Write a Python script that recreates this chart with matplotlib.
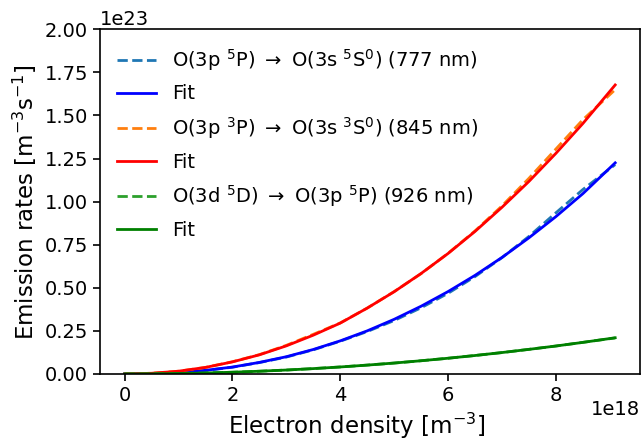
import numpy as np
import matplotlib
matplotlib.use("Agg")
import matplotlib.pyplot as plt
from matplotlib.ticker import MultipleLocator

# Electron density (units of 1e18 m^-3)
density = [0, 0.5, 1, 1.5, 2, 2.5, 3, 3.5, 4, 4.5, 5, 5.5, 6, 6.5, 7, 7.5, 8, 8.5, 9.1]

# Emission rates (units of 1e23 m^-3 s^-1)
rate_777 = [0, 0.002, 0.008, 0.020, 0.039, 0.066, 0.098, 0.140, 0.190, 0.246, 0.310, 0.384, 0.468, 0.565, 0.675, 0.798, 0.935, 1.070, 1.215]
fit_777 = [0, 0.002, 0.0085, 0.021, 0.040, 0.067, 0.100, 0.142, 0.192, 0.250, 0.317, 0.393, 0.478, 0.572, 0.676, 0.790, 0.913, 1.046, 1.225]

rate_845 = [0, 0.004, 0.016, 0.038, 0.071, 0.112, 0.166, 0.230, 0.296, 0.382, 0.478, 0.582, 0.700, 0.830, 0.975, 1.135, 1.305, 1.475, 1.650]
fit_845 = [0, 0.004, 0.016, 0.038, 0.070, 0.111, 0.163, 0.225, 0.295, 0.382, 0.477, 0.583, 0.699, 0.827, 0.967, 1.117, 1.280, 1.453, 1.677]

rate_926 = [0, 0.0006, 0.0025, 0.0057, 0.0100, 0.0158, 0.0228, 0.0312, 0.0405, 0.0515, 0.0632, 0.0768, 0.0912, 0.1073, 0.1240, 0.1430, 0.1620, 0.1835, 0.2090]
fit_926 = [0, 0.0006, 0.0025, 0.0057, 0.0101, 0.0159, 0.0228, 0.0311, 0.0406, 0.0514, 0.0634, 0.0767, 0.0913, 0.1071, 0.1243, 0.1427, 0.1623, 0.1832, 0.2100]

labels = [
    r"O(3p $^5$P) $\rightarrow$ O(3s $^5$S$^0$) (777 nm)",
    "Fit",
    r"O(3p $^3$P) $\rightarrow$ O(3s $^3$S$^0$) (845 nm)",
    "Fit",
    r"O(3d $^5$D) $\rightarrow$ O(3p $^5$P) (926 nm)",
    "Fit",
]

plt.rcParams['font.family'] = ['DejaVu Sans']
plt.rcParams['font.size'] = 14
plt.rcParams['axes.linewidth'] = 1.2
plt.rcParams['xtick.major.width'] = 1.2
plt.rcParams['ytick.major.width'] = 1.2
plt.rcParams['xtick.major.size'] = 5
plt.rcParams['ytick.major.size'] = 5

fig = plt.figure(figsize=(6.41, 4.41), dpi=100)
ax = fig.add_axes([0.156, 0.152, 0.842, 0.7816])

x = np.array(density) * 1e18
lw = 2.0
series = [
    (rate_777, fit_777, "tab:blue", "blue"),
    (rate_845, fit_845, "tab:orange", "red"),
    (rate_926, fit_926, "tab:green", "green"),
]
i = 0
for data, fit, cdata, cfit in series:
    ax.plot(x, np.array(data) * 1e23, "--", color=cdata, lw=lw, label=labels[i])
    ax.plot(x, np.array(fit) * 1e23, "-", color=cfit, lw=lw, label=labels[i + 1])
    i += 2

ax.set_ylim(0, 2.0e23)
ax.yaxis.set_major_locator(MultipleLocator(0.25e23))
ax.set_xlabel(r"Electron density [m$^{-3}$]", fontsize=16.5, x=0.476)
ax.set_ylabel(r"Emission rates [m$^{-3}$s$^{-1}$]", fontsize=16.5)
ax.legend(loc="upper left", frameon=False, fontsize=14, labelspacing=0.6)

# x offset text placed manually
ax.xaxis.get_offset_text().set_visible(False)
ax.text(1.0, -0.075, "1e18", ha="right", va="top", fontsize=14, transform=ax.transAxes)

fig.savefig("out.png", dpi=100)
